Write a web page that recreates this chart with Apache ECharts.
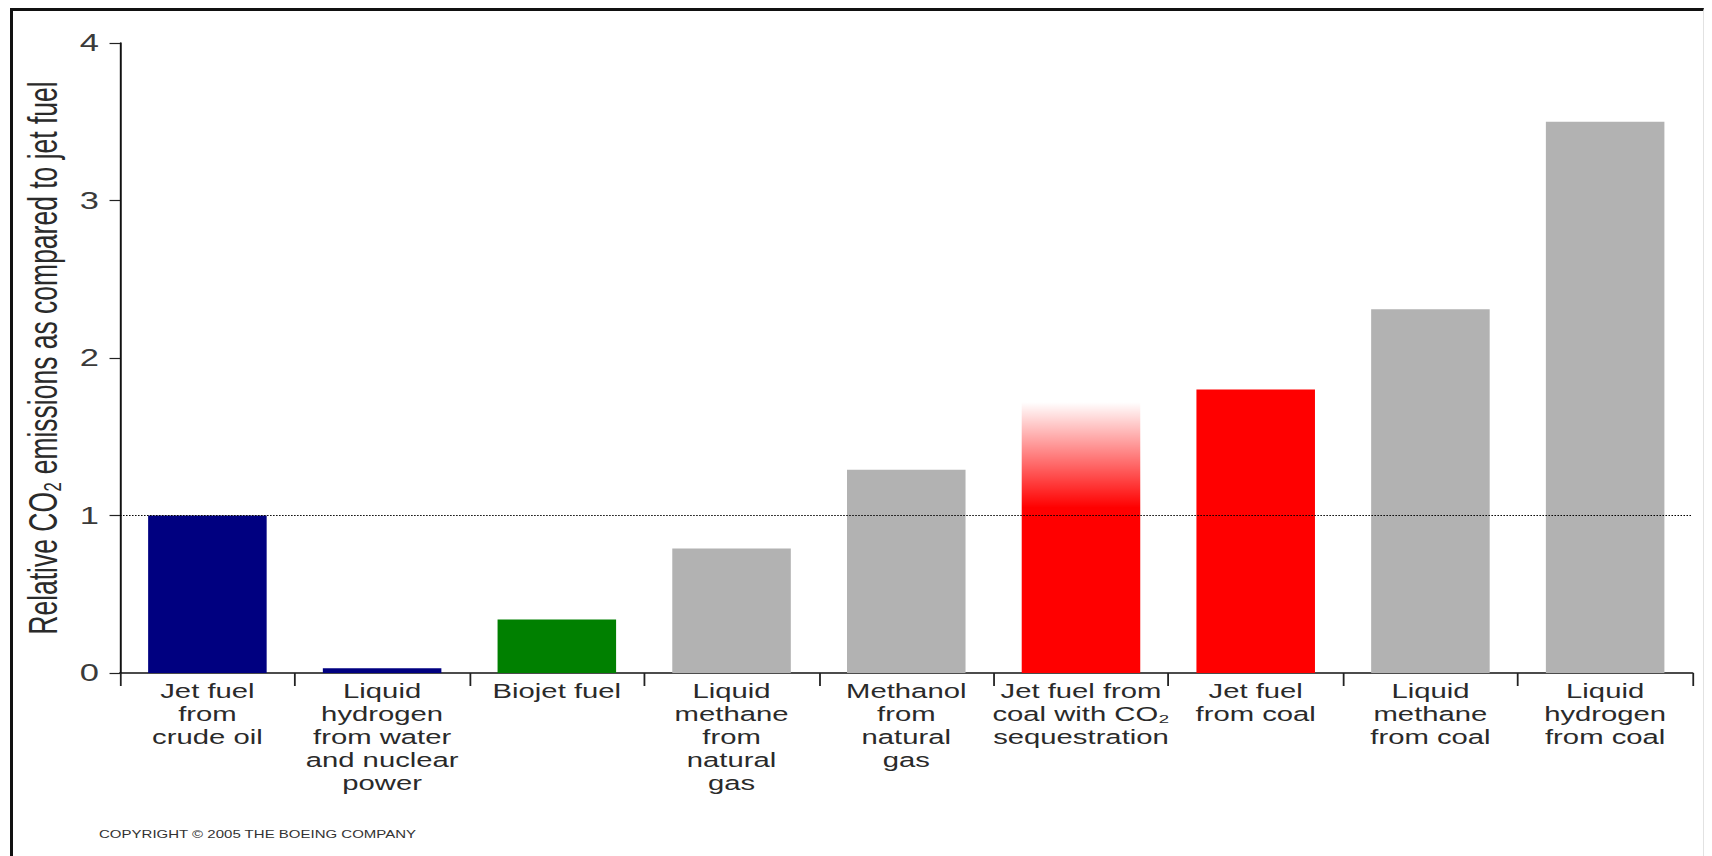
<!DOCTYPE html>
<html>
<head>
<meta charset="utf-8">
<script src="https://cdn.jsdelivr.net/npm/echarts@6/dist/echarts.min.js"></script>
<style>
  html, body { margin: 0; padding: 0; background: #fff; overflow: hidden; }
  #wrap { position: relative; width: 1712px; height: 856px; overflow: hidden; }
  /* the source picture is stretched sideways, so the chart is drawn narrow and widened */
  #chart { position: absolute; left: 0; top: 0; width: 1141px; height: 856px;
           transform-origin: 0 0; transform: scaleX(1.50044); }
  #frame { position: absolute; left: 10px; top: 8px; width: 1694px; height: 900px;
           box-sizing: border-box; border-left: 3px solid #111; border-top: 3px solid #111;
           border-right: 1px solid #e2e2e2; pointer-events: none; }
</style>
</head>
<body>
<div id="wrap">
  <div id="chart"></div>
  <div id="frame"></div>
</div>
<script>
// categories as printed under the bars
const categories = [
  "Jet fuel\nfrom\ncrude oil",
  "Liquid\nhydrogen\nfrom water\nand nuclear\npower",
  "Biojet fuel",
  "Liquid\nmethane\nfrom\nnatural\ngas",
  "Methanol\nfrom\nnatural\ngas",
  "Jet fuel from\ncoal with CO\u2082\nsequestration",
  "Jet fuel\nfrom coal",
  "Liquid\nmethane\nfrom coal",
  "Liquid\nhydrogen\nfrom coal"
];
// relative CO2 emissions (jet fuel = 1)
const values = [1.0, 0.03, 0.34, 0.79, 1.29, 1.72, 1.80, 2.31, 3.50];
// with sequestration: solid up to this level, faded above it
const sequestrationSolid = 1.05;
const referenceLevel = 1.0;

const FONT = "'Liberation Sans', Arial, sans-serif";
const NAVY = "#000080", GREEN = "#008000", GREY = "#b2b2b2", RED = "#ff0000";
const fadedIndex = 5;

const fadedRed = new echarts.graphic.LinearGradient(0, 0, 0, 1, [
  { offset: 0, color: "rgba(255,0,0,0)" },
  { offset: 1 - sequestrationSolid / values[fadedIndex], color: RED },
  { offset: 1, color: RED }
]);
const barColors = [NAVY, NAVY, GREEN, GREY, GREY, fadedRed, RED, GREY, GREY];

const chart = echarts.init(document.getElementById("chart"), null, { renderer: "svg" });

chart.setOption({
  animation: false,
  backgroundColor: "#fff",
  title: {
    text: "COPYRIGHT \u00a9 2005 THE BOEING COMPANY",
    left: 66,
    top: 829,
    padding: 0,
    textStyle: { fontFamily: FONT, fontSize: 10, fontWeight: "normal", color: "#333" }
  },
  grid: { left: 80, right: 13, top: 43, bottom: 183, containLabel: false },
  xAxis: {
    type: "category",
    data: categories,
    axisLine: { lineStyle: { color: "#111", width: 1.5 } },
    axisTick: { show: true, alignWithLabel: false, length: 13, lineStyle: { color: "#222", width: 1.2 } },
    axisLabel: {
      interval: 0,
      margin: 6,
      fontFamily: FONT,
      fontSize: 19.5,
      lineHeight: 23,
      color: "#2a2a2a"
    }
  },
  yAxis: {
    type: "value",
    min: 0,
    max: 4,
    interval: 1,
    name: "Relative CO\u2082 emissions as compared to jet fuel",
    nameLocation: "middle",
    nameRotate: 90,
    nameGap: 38,
    nameTextStyle: { fontFamily: FONT, fontSize: 26.5, color: "#2a2a2a" },
    axisLine: { show: true, lineStyle: { color: "#111", width: 1.3 } },
    axisTick: { show: true, length: 7, lineStyle: { color: "#222", width: 1.2 } },
    splitLine: { show: false },
    axisLabel: { margin: 14, fontFamily: FONT, fontSize: 23, color: "#3a3a3a" }
  },
  series: [{
    type: "bar",
    barWidth: 79,
    data: values.map((v, i) => ({ value: v, itemStyle: { color: barColors[i] } })),
    markLine: {
      silent: true,
      symbol: ["none", "none"],
      label: { show: false },
      lineStyle: { type: "dotted", color: "#000", width: 1 },
      data: [{ yAxis: referenceLevel }]
    }
  }]
});
</script>
</body>
</html>
